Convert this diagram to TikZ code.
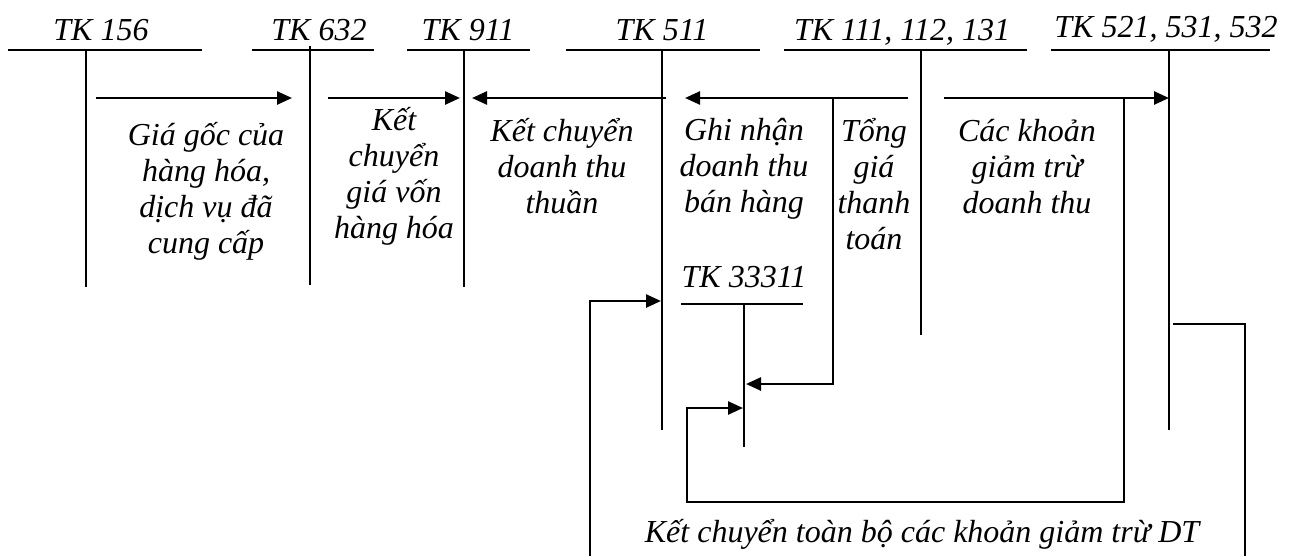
\documentclass[tikz,border=0pt]{standalone}
\usepackage{fontspec}
\setmainfont{Liberation Serif}
\usetikzlibrary{arrows.meta}
\begin{document}
\begin{tikzpicture}[x=1pt,y=-1pt,
  lbl/.style={font=\fontsize{32}{36}\selectfont\itshape, inner sep=0pt, align=center, anchor=base},
  tline/.style={line width=2.3pt},
  vline/.style={line width=1.6pt},
  link/.style={line width=2.5pt},
  flow/.style={line width=2.5pt, -{Triangle[length=15pt,width=13pt]}}]
\useasboundingbox (0,0) rectangle (1298,555);

% account titles
\node[lbl] (n156) at (101,40) {TK 156};
\node[lbl] (n632) at (319,40) {TK 632};
\node[lbl] (n911) at (468,40) {TK 911};
\node[lbl] (n511) at (662,40) {TK 511};
\node[lbl] (n111) at (902,40) {TK 111, 112, 131};
\node[lbl] (n521) at (1166,37) {TK 521, 531, 532};
\node[lbl] (n333) at (744,287) {TK 33311};

% T-account frames
\coordinate (h156a) at (8,50);    \coordinate (h156b) at (202,50);
\coordinate (v156a) at (86,50);   \coordinate (v156b) at (86,287);
\coordinate (h632a) at (252,50);  \coordinate (h632b) at (374,50);
\coordinate (v632a) at (310,46);  \coordinate (v632b) at (310,285);
\coordinate (h911a) at (407,50);  \coordinate (h911b) at (530,50);
\coordinate (v911a) at (464,50);  \coordinate (v911b) at (464,287);
\coordinate (h511a) at (566,50);  \coordinate (h511b) at (760,50);
\coordinate (v511a) at (662,50);  \coordinate (v511b) at (662,430);
\coordinate (h111a) at (784,50);  \coordinate (h111b) at (1027,50);
\coordinate (v111a) at (921,50);  \coordinate (v111b) at (921,335);
\coordinate (h521a) at (1051,50); \coordinate (h521b) at (1270,50);
\coordinate (v521a) at (1169,50); \coordinate (v521b) at (1169,430);
\coordinate (h333a) at (681,304); \coordinate (h333b) at (803,304);
\coordinate (v333a) at (744,304); \coordinate (v333b) at (744,447);

\foreach \k in {156,632,911,511,111,521,333}{
  \draw[tline] (h\k a) -- (h\k b);
  \draw[vline] (v\k a) -- (v\k b);
}

% entry descriptions (placed by the baseline of their last line)
\node[lbl] (d1) at (206,253) {Giá gốc của\\hàng hóa,\\dịch vụ đã\\cung cấp};
\node[lbl] (d2) at (394,238) {Kết\\chuyển\\giá vốn\\hàng hóa};
\node[lbl] (d3) at (562,213) {Kết chuyển\\doanh thu\\thuần};
\node[lbl] (d4) at (744,212) {Ghi nhận\\doanh thu\\bán hàng};
\node[lbl] (d5) at (874,249) {Tổng\\giá\\thanh\\toán};
\node[lbl] (d6) at (1027,213) {Các khoản\\giảm trừ\\doanh thu};
\node[lbl] (d7) at (922,542) {Kết chuyển toàn bộ các khoản giảm trừ DT};

% postings
\coordinate (a1s) at (96,98);   \coordinate (a1e) at (292,98);
\coordinate (a2s) at (328,98);  \coordinate (a2e) at (460,98);
\coordinate (a3s) at (666,98);  \coordinate (a3e) at (472,98);
\coordinate (a4s) at (908,98);  \coordinate (a4e) at (685,98);
\coordinate (a4k) at (833,98);  \coordinate (a4m) at (833,384);
\coordinate (a4t) at (746,384);
\coordinate (a5s) at (944,98);  \coordinate (a5e) at (1169,98);
\coordinate (a5k) at (1124,98); \coordinate (a5m) at (1124,502);
\coordinate (a5n) at (687,502); \coordinate (a5o) at (687,408);
\coordinate (a5t) at (743,408);
\coordinate (a6s) at (1173,324); \coordinate (a6m) at (1245,324);
\coordinate (a6e) at (1245,556);
\coordinate (a7s) at (590,556);  \coordinate (a7m) at (590,301);
\coordinate (a7t) at (661,301);

\draw[flow] (a1s) -- (a1e);
\draw[flow] (a2s) -- (a2e);
\draw[flow] (a3s) -- (a3e);
\draw[flow] (a4s) -- (a4e);
\draw[flow] (a4k) -- (a4m) -- (a4t);
\draw[flow] (a5s) -- (a5e);
\draw[flow] (a5k) -- (a5m) -- (a5n) -- (a5o) -- (a5t);
\draw[link] (a6s) -- (a6m) -- (a6e);
\draw[flow] (a7s) -- (a7m) -- (a7t);
\end{tikzpicture}
\end{document}
